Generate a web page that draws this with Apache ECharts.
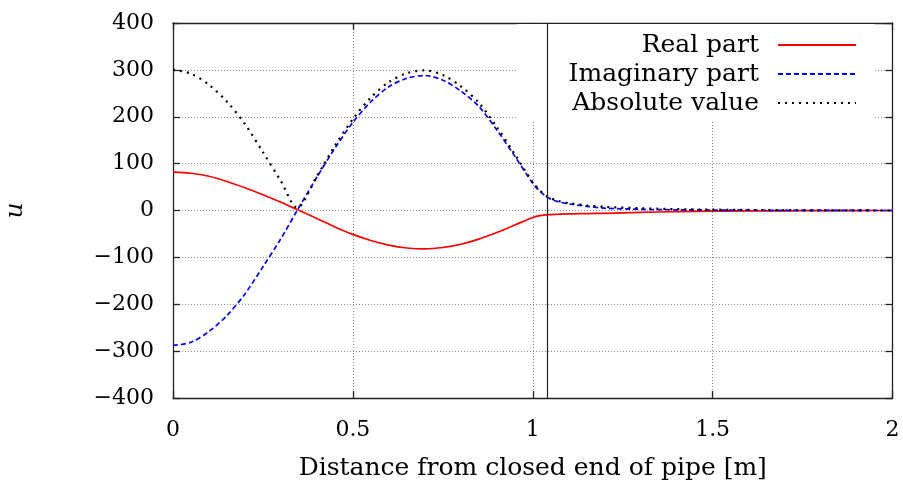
<!DOCTYPE html>
<html>
<head>
<meta charset="utf-8">
<script src="https://cdn.jsdelivr.net/npm/echarts@6/dist/echarts.min.js"></script>
<style>html,body{margin:0;padding:0;background:#fff;}#c{width:903px;height:491px;}</style>
</head>
<body>
<div id="c"></div>
<script>
// Distance from closed end of pipe [m]
const xs = [0, 0.05, 0.1, 0.15, 0.2, 0.25, 0.3, 0.345, 0.4, 0.45, 0.5, 0.55, 0.6, 0.65, 0.7, 0.75, 0.8, 0.85, 0.9, 0.95, 1.0, 1.02, 1.043, 1.07, 1.1, 1.15, 1.2, 1.3, 1.4, 1.5, 1.6, 1.7, 1.8, 1.9, 2.0];
const realPart = [82, 79.5, 73, 62, 48.5, 33.5, 17.5, 2, -17, -35, -51, -64, -74, -80, -82, -79, -72, -61, -47, -31, -15, -11, -9, -8, -7, -6.5, -6, -4, -2.5, -1.5, -1, -0.6, -0.3, -0.1, 0];
const imagPart = [-288, -281, -258, -224, -178, -120, -60, 0, 71, 133, 188, 232, 264, 282, 288, 278, 255, 222, 172, 116, 58, 41, 27, 19, 14, 9, 5, 2.5, 1.5, 1, 0.6, 0.4, 0.2, 0.1, 0];
const absValue = [300, 292, 268, 232, 184.5, 124.5, 62.5, 6, 73, 138, 195, 241, 274, 293, 299, 289, 265, 230, 178, 120, 60, 42.5, 28.5, 20.6, 15.7, 11, 7.8, 4.7, 2.9, 1.8, 1.2, 0.7, 0.4, 0.1, 0];
const seriesNames = ['Real part', 'Imaginary part', 'Absolute value'];
const markerX = [1.043];
const xTicks = [0, 0.5, 1, 1.5, 2];
const yTicks = [-400, -300, -200, -100, 0, 100, 200, 300, 400];
const xTitle = 'Distance from closed end of pipe [m]';
const yTitle = 'u';

const pair = arr => xs.map((x, i) => [x, arr[i]]);
const FONT = 'DejaVu Serif';
const fmtNum = v => String(v).replace('-', '\u2212');

const gridLine = { show: true, lineStyle: { color: '#8a8a8a', type: [1, 2], width: 1 } };
const axisLine = { show: true, onZero: false, lineStyle: { color: '#222', width: 1.3 } };
const tick = { show: true, inside: true, length: 7, lineStyle: { color: '#222', width: 1.3 } };

const chart = echarts.init(document.getElementById('c'), null, { renderer: 'canvas' });
chart.setOption({
  animation: false,
  backgroundColor: '#fff',
  grid: { left: 173, right: 10.5, top: 23, bottom: 93, containLabel: false, outerBoundsMode: 'none' },
  legend: {
    orient: 'vertical', align: 'right', right: 28, top: 24,
    padding: [6.5, 18, 4.5, 52], itemGap: 0, itemWidth: 78, itemHeight: 14,
    backgroundColor: '#fff', z: 1,
    itemStyle: { opacity: 0, borderWidth: 0 },
    textStyle: { fontFamily: FONT, fontSize: 25, color: '#000', lineHeight: 29, padding: [0, 14, 0, 0] },
    data: seriesNames
  },
  xAxis: [
    { type: 'value', position: 'bottom', min: xTicks[0], max: xTicks[xTicks.length - 1], interval: 0.5,
      axisLine, axisTick: tick, splitLine: gridLine,
      axisLabel: { fontFamily: FONT, fontSize: 22, color: '#000', margin: 21, formatter: v => fmtNum(v) },
      name: xTitle, nameLocation: 'middle', nameGap: 58,
      nameTextStyle: { fontFamily: FONT, fontSize: 25, color: '#000' } },
    { type: 'value', position: 'top', min: xTicks[0], max: xTicks[xTicks.length - 1], interval: 0.5,
      axisLine, axisTick: tick, splitLine: { show: false }, axisLabel: { show: false } }
  ],
  yAxis: [
    { type: 'value', position: 'left', min: yTicks[0], max: yTicks[yTicks.length - 1], interval: 100,
      axisLine, axisTick: tick, splitLine: gridLine,
      axisLabel: { fontFamily: FONT, fontSize: 22, color: '#000', margin: 19, formatter: v => fmtNum(v) },
      name: yTitle, nameLocation: 'middle', nameGap: 145, nameRotate: 90,
      nameTextStyle: { fontFamily: FONT, fontSize: 25, color: '#000', fontStyle: 'italic' } },
    { type: 'value', position: 'right', min: yTicks[0], max: yTicks[yTicks.length - 1], interval: 100,
      axisLine, axisTick: tick, splitLine: { show: false }, axisLabel: { show: false } }
  ],
  series: [
    { name: seriesNames[0], type: 'line', data: pair(realPart), symbol: 'none', smooth: 0.3,
      lineStyle: { color: '#ff0000', width: 1.7, type: 'solid' }, itemStyle: { color: '#ff0000' },
      markLine: { silent: true, symbol: ['none', 'none'], label: { show: false },
        lineStyle: { color: '#222', width: 1.2, type: 'solid' },
        data: markerX.map(v => ({ xAxis: v })) } },
    { name: seriesNames[1], type: 'line', data: pair(imagPart), symbol: 'none', smooth: 0.3,
      lineStyle: { color: '#0000ff', width: 1.7, type: [5, 3] }, itemStyle: { color: '#0000ff' } },
    { name: seriesNames[2], type: 'line', data: pair(absValue), symbol: 'none', smooth: 0.3,
      lineStyle: { color: '#000000', width: 2.2, type: [2, 5] }, itemStyle: { color: '#000000' } }
  ]
});
</script>
</body>
</html>
